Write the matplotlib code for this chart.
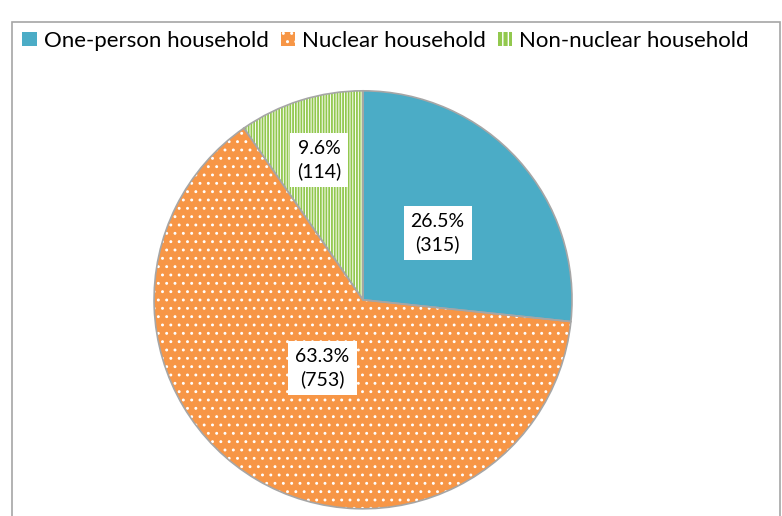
import numpy as np
import matplotlib.pyplot as plt
from matplotlib.patches import Rectangle, Patch

plt.rcParams['font.family'] = ['Lato', 'DejaVu Sans']

# Datos del grafico
categorias = ['One-person household', 'Nuclear household', 'Non-nuclear household']
porcentajes = [26.5, 63.3, 9.6]
hogares = [315, 753, 114]

# Estilos
colores = ['#4BACC6', '#F79646', '#FFFFFF']
tramas = ['', '..', '||||||']
color_trama = ['#4BACC6', '#FFFFFF', '#92C84E']
grosor_trama = [1.0, 0.9, 1.3]
distancia_etiqueta = [0.48, 0.38, 0.70]

fig = plt.figure(figsize=(7.82, 5.16), dpi=100)

# marco del grafico
fig.patches.append(Rectangle((12 / 782, -0.1), 768 / 782, 1.1 - 22 / 516,
                             transform=fig.transFigure, fill=False,
                             edgecolor='#A6A6A6', linewidth=1.2))

ax = fig.add_axes([0.197, 0.014, 0.5345, 0.81])

# capa con relleno y trama (el color de la trama sale del borde)
wedges, _ = ax.pie(porcentajes, colors=colores, startangle=90, counterclock=False,
                   radius=1, wedgeprops=dict(linewidth=0))
for w, h, hc, g in zip(wedges, tramas, color_trama, grosor_trama):
    w.set_hatch(h)
    w.set_edgecolor(hc)
    if hasattr(w, 'set_hatch_linewidth'):
        w.set_hatch_linewidth(g)

# capa con los bordes grises
ax.pie(porcentajes, colors=['none'] * 3, startangle=90, counterclock=False,
       radius=1, wedgeprops=dict(linewidth=1.2, edgecolor='#A6A6A6', fill=False))

ax.set_xlim(-1, 1)
ax.set_ylim(-1, 1)
ax.axis('off')

# etiquetas de datos
for w, p, n, d in zip(wedges, porcentajes, hogares, distancia_etiqueta):
    ang = np.deg2rad((w.theta1 + w.theta2) / 2)
    ax.text(d * np.cos(ang), d * np.sin(ang), f'{p}%\n({n})', ha='center', va='center',
            fontsize=14, linespacing=1.35, color='#000000',
            bbox=dict(facecolor='white', edgecolor='none', pad=5))

# leyenda
handles = [Patch(facecolor='#4BACC6', linewidth=0),
           Patch(facecolor='#F79646', edgecolor='#FFFFFF', hatch='..', linewidth=0),
           Patch(facecolor='#92C84E', edgecolor='#FFFFFF', hatch='|||', linewidth=0)]
fig.legend(handles, categorias, loc='center', bbox_to_anchor=(0.493, 0.921), ncol=3,
           frameon=False, fontsize=16, handlelength=0.65, handleheight=0.65,
           handletextpad=0.3, columnspacing=0.55)

plt.savefig('out.png', dpi=100)
